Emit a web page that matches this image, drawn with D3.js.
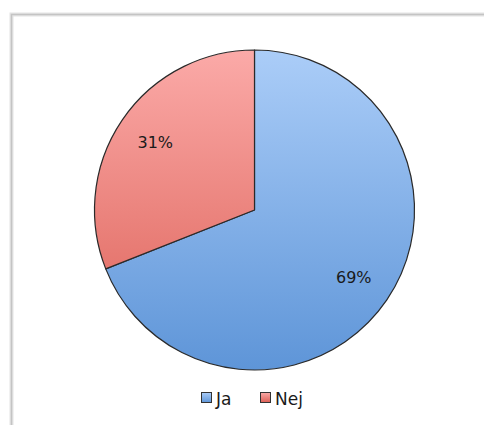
<!DOCTYPE html>
<html><head><meta charset="utf-8">
<script src="https://cdn.jsdelivr.net/npm/d3@7"></script>
<style>html,body{margin:0;padding:0;background:#fff;}svg{display:block;}</style>
</head><body>
<svg id="c" width="484" height="425"></svg>
<script>
const categories = ["Ja", "Nej"];
const values = [69, 31];
const labels = ["69%", "31%"];
const colorsTop = ["#abcdf8", "#fbaaa8"];
const colorsBottom = ["#5e95d8", "#dc5f55"];

const svg = d3.select("#c");
const W = 484, H = 425;
const cx = 254.5, cy = 210, r = 160;

const defs = svg.append("defs");
categories.forEach((c, i) => {
  const g = defs.append("linearGradient").attr("id", "g" + i)
    .attr("gradientUnits", "userSpaceOnUse")
    .attr("x1", 0).attr("y1", -r).attr("x2", 0).attr("y2", r);
  g.append("stop").attr("offset", "0%").attr("stop-color", colorsTop[i]);
  g.append("stop").attr("offset", "100%").attr("stop-color", colorsBottom[i]);
  const lg = defs.append("linearGradient").attr("id", "lg" + i)
    .attr("x1", 0).attr("y1", 0).attr("x2", 0).attr("y2", 1);
  lg.append("stop").attr("offset", "0%").attr("stop-color", colorsTop[i]);
  lg.append("stop").attr("offset", "100%").attr("stop-color", colorsBottom[i]);
});

// frame
svg.append("rect").attr("x", 11.5).attr("y", 14.5).attr("width", W + 20).attr("height", H + 20)
  .attr("fill", "none").attr("stroke", "#e4e4e4").attr("stroke-width", 4);
svg.append("rect").attr("x", 11.5).attr("y", 14.5).attr("width", W + 20).attr("height", H + 20)
  .attr("fill", "none").attr("stroke", "#c4c4c4").attr("stroke-width", 1.5);

const pie = d3.pie().sort(null).value(d => d);
const arcs = pie(values);
const arc = d3.arc().innerRadius(0).outerRadius(r);
const labelArc = d3.arc().innerRadius(r * 0.75).outerRadius(r * 0.75);

const g = svg.append("g").attr("transform", `translate(${cx},${cy})`);
g.selectAll("path").data(arcs).join("path")
  .attr("d", arc)
  .attr("fill", (d, i) => `url(#g${i})`)
  .attr("stroke", "#2a2a2a").attr("stroke-width", 1.2).attr("stroke-linejoin", "round");

g.selectAll("text").data(arcs).join("text")
  .attr("transform", d => `translate(${labelArc.centroid(d)})`)
  .attr("text-anchor", "middle").attr("dy", "0.35em")
  .attr("font-family", "DejaVu Sans, Verdana, sans-serif").attr("font-size", 16)
  .attr("fill", "#1a1a1a")
  .text((d, i) => labels[i]);

// legend
const legX = [201, 260];
const leg = svg.append("g");
categories.forEach((c, i) => {
  leg.append("rect").attr("x", legX[i] + 0.5).attr("y", 392.5).attr("width", 10).attr("height", 10)
    .attr("fill", `url(#lg${i})`).attr("stroke", "#333").attr("stroke-width", 1);
  leg.append("text").attr("x", legX[i] + 15).attr("y", 405)
    .attr("font-family", "DejaVu Sans, Verdana, sans-serif").attr("font-size", 17)
    .attr("fill", "#1a1a1a").text(c);
});
</script>
</body></html>
